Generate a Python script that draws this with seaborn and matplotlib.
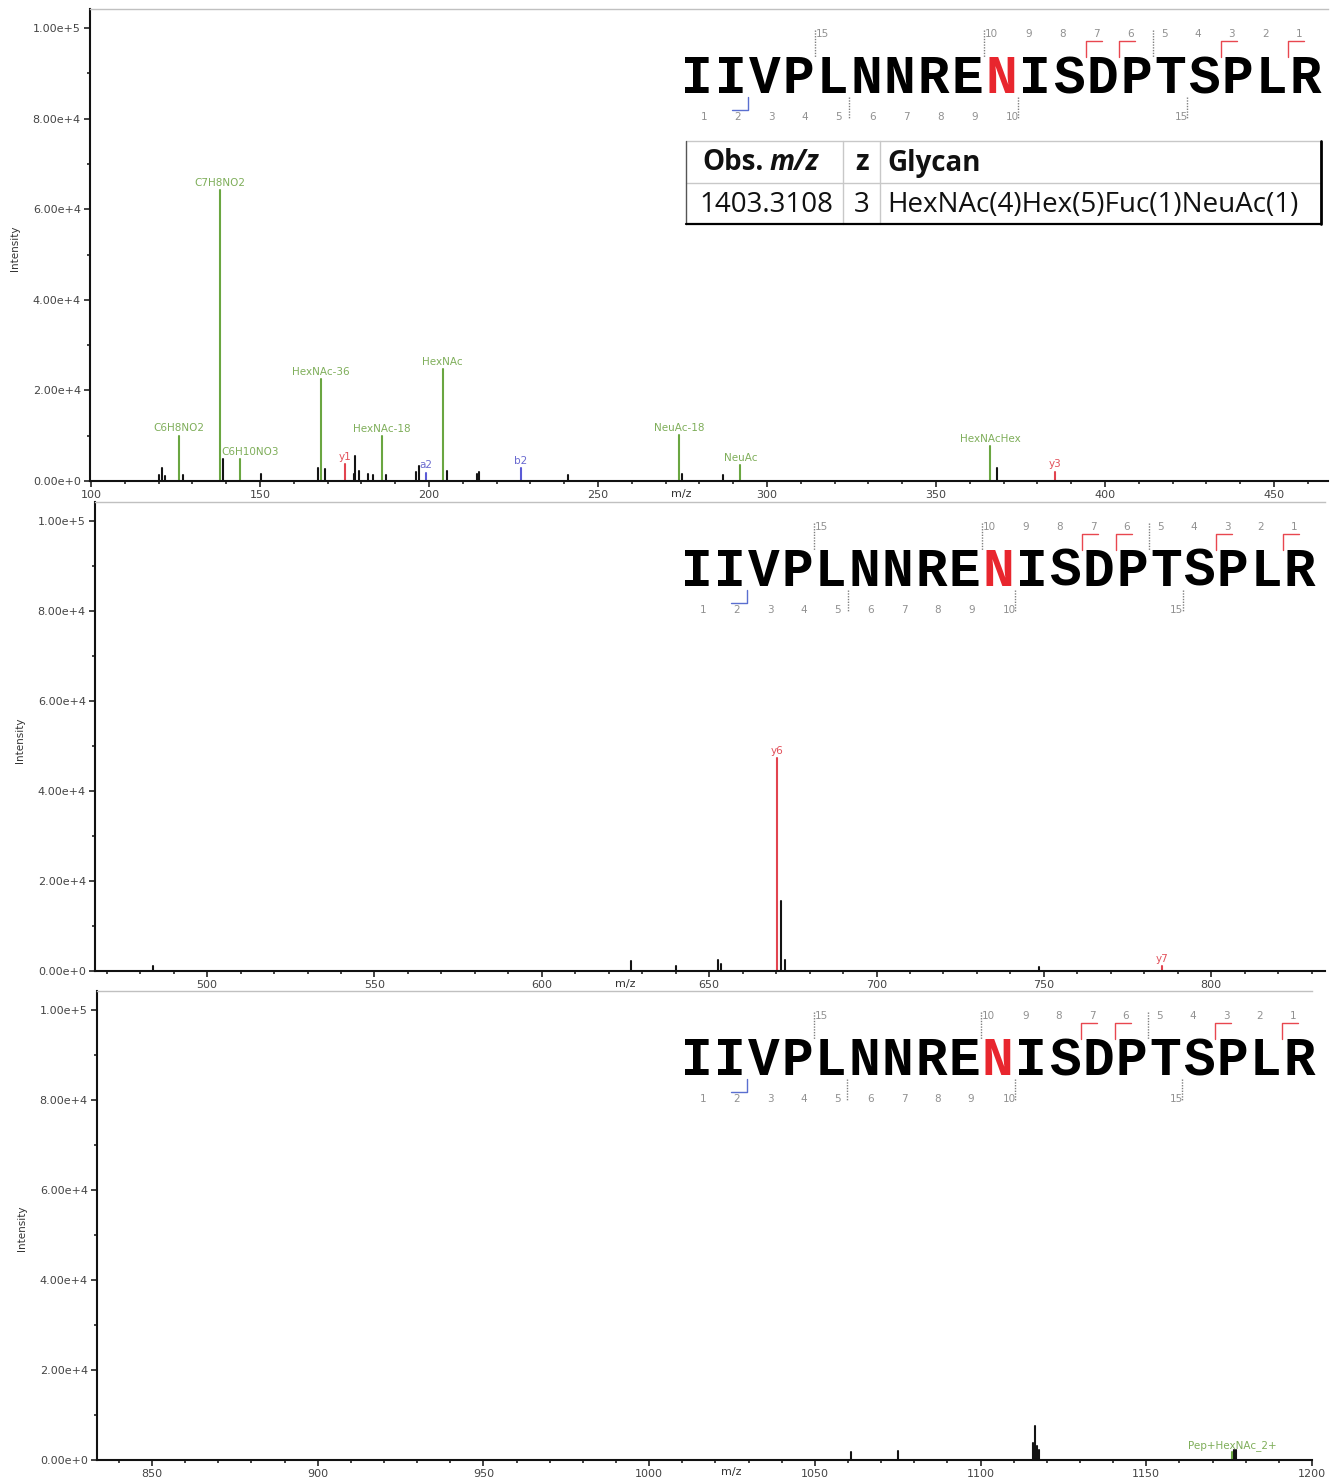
import numpy as np
import pandas as pd
import matplotlib
matplotlib.use("Agg")
import matplotlib.pyplot as plt
from matplotlib.ticker import MultipleLocator, FixedLocator, FixedFormatter
import seaborn as sns

# ---------------- data ----------------
top_mz = [120.1, 121.1, 121.8, 126.06, 127.1, 138.06, 139.1, 144.07, 150.2, 167.2,
          168.07, 169.2, 175.12, 177.9, 178.2, 179.2, 182.1, 183.5, 186.08, 187.2,
          196.1, 197.1, 199.18, 204.09, 205.2, 214.1, 214.9, 227.18, 241.2, 274.09,
          275.0, 286.9, 292.10, 366.14, 368.1, 385.2]
top_int = [1250, 2900, 1100, 10000, 1400, 64200, 4900, 4800, 1500, 2900,
           22500, 2700, 3700, 1600, 5500, 2300, 1500, 1400, 9900, 1400,
           2000, 3300, 1800, 24700, 2300, 1500, 2000, 2800, 1300, 10100,
           1500, 1400, 3500, 7700, 2900, 2000]
top_kind = ["other", "other", "other", "glycan", "other", "glycan", "other", "glycan", "other", "other",
            "glycan", "other", "y", "other", "other", "other", "other", "other", "glycan", "other",
            "other", "other", "b", "glycan", "other", "other", "other", "b", "other", "glycan",
            "other", "other", "glycan", "glycan", "other", "y"]
top_label = ["", "", "", "C6H8NO2", "", "C7H8NO2", "", "C6H10NO3", "", "",
             "HexNAc-36", "", "y1", "", "", "", "", "", "HexNAc-18", "",
             "", "", "a2", "HexNAc", "", "", "", "b2", "", "NeuAc-18",
             "", "", "NeuAc", "HexNAcHex", "", "y3"]

mid_mz = [483.96, 626.6, 640.0, 652.5, 653.6, 670.38, 671.6, 672.7, 748.6, 785.42]
mid_int = [1100, 2200, 1200, 2400, 1500, 47300, 15600, 2500, 900, 1100]
mid_kind = ["other", "other", "other", "other", "other", "y", "other", "other", "other", "y"]
mid_label = ["", "", "", "", "", "y6", "", "", "", "y7"]

bot_mz = [1060.8, 1075.1, 1115.9, 1116.4, 1116.9, 1117.6, 1176.0, 1176.6, 1177.1]
bot_int = [1850, 2000, 3850, 7600, 3200, 2150, 1700, 2300, 2300]
bot_kind = ["other", "other", "other", "other", "other", "other", "glycan", "other", "other"]
bot_label = ["", "", "", "", "", "", "Pep+HexNAc_2+", "", ""]

y_tick_values = [0, 20000, 40000, 60000, 80000, 100000]
y_tick_labels = ["0.00e+0", "2.00e+4", "4.00e+4", "6.00e+4", "8.00e+4", "1.00e+5"]

peptide = "IIVPLNNRENISDPTSPLR"
glyco_site = 9
y_numbers = [15, 10, 9, 8, 7, 6, 5, 4, 3, 2, 1]
b_numbers = [1, 2, 3, 4, 5, 6, 7, 8, 9, 10, 15]
y_observed = [1, 3, 6, 7]
b_observed = [2]

table_header = ["Obs.", "m/z", "z", "Glycan"]
table_row = ["1403.3108", "3", "HexNAc(4)Hex(5)Fuc(1)NeuAc(1)"]

# ---------------- style ----------------
sns.set_theme(style="white")
plt.rcParams["font.family"] = ["DejaVu Sans"]

W, H = 1338, 1482
fig = plt.figure(figsize=(W / 100, H / 100), dpi=100)
fig.patch.set_facecolor("white")

palette = {"other": "#141414", "glycan": "#6aa641", "y": "#e2444f", "b": "#5b5bd6"}
label_colors = {"glycan": "#7fae5a", "y": "#e2505a", "b": "#6a6ad0", "other": "#333333"}
label_dx = {"C6H10NO3": 7}


def rect(l, t, r, b):
    return [l / W, 1 - b / H, (r - l) / W, (b - t) / H]


def stems(mz, inten, kind):
    rows = []
    for i, (m, v, k) in enumerate(zip(mz, inten, kind)):
        rows.append((i, m, 0.0, k))
        rows.append((i, m, v, k))
    return pd.DataFrame(rows, columns=["pid", "mz", "intensity", "kind"])


panels = [
    dict(box=(90, 9, 1328, 481), ymax=1e5 * (481 - 9) / (481 - 28), xlim=(99.7, 466.0),
         mz=top_mz, inten=top_int, kind=top_kind, label=top_label),
    dict(box=(95, 502, 1325, 971), ymax=1e5 * 469 / 450, xlim=(466.5, 834.0),
         mz=mid_mz, inten=mid_int, kind=mid_kind, label=mid_label),
    dict(box=(97, 991, 1312, 1460), ymax=1e5 * 469 / 450, xlim=(833.4, 1200.0),
         mz=bot_mz, inten=bot_int, kind=bot_kind, label=bot_label),
]

for p in panels:
    ax = fig.add_axes(rect(*p["box"]))
    df = stems(p["mz"], p["inten"], p["kind"])
    sns.lineplot(data=df, x="mz", y="intensity", units="pid", estimator=None,
                 hue="kind", palette=palette, sort=False, legend=False,
                 lw=1.5, ax=ax)
    for m, v, k, lab in zip(p["mz"], p["inten"], p["kind"], p["label"]):
        if lab:
            ax.annotate(lab, xy=(m, v), xytext=(label_dx.get(lab, 0), 3.2),
                        textcoords="offset points", ha="center", va="baseline",
                        fontsize=7.5, color=label_colors[k])
    ax.set_xlim(*p["xlim"])
    ax.set_ylim(0, p["ymax"])
    ax.set_xlabel("")
    ax.set_ylabel("")
    ax.xaxis.set_major_locator(MultipleLocator(50))
    ax.xaxis.set_minor_locator(MultipleLocator(10))
    ax.yaxis.set_major_locator(FixedLocator(y_tick_values))
    ax.yaxis.set_major_formatter(FixedFormatter(y_tick_labels))
    ax.yaxis.set_minor_locator(MultipleLocator(10000))
    ax.tick_params(which="major", direction="out", length=4.6, width=1.1,
                   color="#111111", labelsize=8, labelcolor="#444444", pad=2)
    ax.tick_params(which="minor", direction="out", length=2.4, width=1.1, color="#111111")
    ax.tick_params(axis="x", which="both", bottom=True)
    ax.tick_params(axis="y", which="both", left=True)
    for s in ["left", "bottom"]:
        ax.spines[s].set_color("#111111")
        ax.spines[s].set_linewidth(1.5)
    ax.spines["right"].set_visible(False)
    ax.spines["top"].set_color("#c0c0c0")
    ax.spines["top"].set_linewidth(1.0)
    ax.set_facecolor("white")
    ax.grid(False)

# ---------------- overlay (pixel coordinates) ----------------
ov = fig.add_axes([0, 0, 1, 1])
ov.set_xlim(0, W)
ov.set_ylim(H, 0)
ov.axis("off")
ov.patch.set_alpha(0)

# axis titles
for (xx, yy) in [(681, 494), (625, 984), (731, 1472)]:
    ov.text(xx, yy, "m/z", ha="center", va="center", fontsize=8, color="#333333")
for (xx, yy) in [(15, 248), (20, 740), (22, 1228)]:
    ov.text(xx, yy, "Intensity", ha="center", va="center", rotation=90,
            fontsize=7.5, color="#333333")

RED = "#e8262e"
NUM = "#909090"


def draw_sequence(top, x0, sp):
    n = len(peptide)
    for i, aa in enumerate(peptide):
        ov.text(x0 + sp * (i + 0.5), top + 84, aa, ha="center", va="baseline",
                fontsize=38, fontweight="bold", family="Liberation Mono",
                color=RED if i == glyco_site else "black")
    for k in y_numbers:
        bx = x0 + sp * (n - k)
        if k >= 10:
            ov.text(bx + 1, top + 25, str(k), ha="left", va="center", fontsize=7.5, color=NUM)
        else:
            ov.text(bx + 11, top + 25, str(k), ha="center", va="center", fontsize=7.5, color=NUM)
        if k % 5 == 0:
            ov.plot([bx, bx], [top + 21, top + 48], ls=(0, (1, 1)), color="#808080", lw=1)
        if k in y_observed:
            ov.plot([bx, bx, bx + 16], [top + 48, top + 32, top + 32], color="#e8474f", lw=1)
    for k in b_numbers:
        bx = x0 + sp * k
        if k >= 10:
            ov.text(bx + 1, top + 108, str(k), ha="right", va="center", fontsize=7.5, color=NUM)
        else:
            ov.text(bx - 10, top + 108, str(k), ha="center", va="center", fontsize=7.5, color=NUM)
        if k % 5 == 0:
            ov.plot([bx, bx], [top + 88, top + 110], ls=(0, (1, 1)), color="#808080", lw=1)
        if k in b_observed:
            ov.plot([bx, bx, bx - 16], [top + 88, top + 101, top + 101], color="#5a6fd0", lw=1)


draw_sequence(9, 680, 33.8)
draw_sequence(502, 680, 33.5)
draw_sequence(991, 680, 33.45)

# table
tl, tr, tt, tm, tb = 686, 1321, 141, 183, 224
light = "#c8c8c8"
ov.plot([tl, tr], [tt, tt], color=light, lw=1)
ov.plot([tl, tr], [tm, tm], color=light, lw=1)
for cx in (843, 880):
    ov.plot([cx, cx], [tt, tb], color=light, lw=1)
ov.plot([tl, tl], [tt, tb], color="#555555", lw=1)
ov.plot([tl, tr], [tb, tb], color="black", lw=1.6)
ov.plot([tr, tr], [tt, tb], color="black", lw=2)

tfont = "Open Sans"
TS = 20
t_obs = ov.text(702, 163, table_header[0], ha="left", va="center", fontsize=TS,
                fontweight="bold", family=tfont, color="#111111")
renderer = fig.canvas.get_renderer()
obs_w = t_obs.get_window_extent(renderer).width
ov.text(702 + obs_w + 6, 163, table_header[1], ha="left", va="center", fontsize=TS,
        fontweight="bold", style="italic", family=tfont, color="#111111")
ov.text(862, 163, table_header[2], ha="center", va="center", fontsize=TS,
        fontweight="bold", family=tfont, color="#111111")
ov.text(887, 163, table_header[3], ha="left", va="center", fontsize=TS,
        fontweight="bold", family=tfont, color="#111111")
ov.text(699, 205, table_row[0], ha="left", va="center", fontsize=TS,
        family=tfont, color="#111111")
ov.text(862, 205, table_row[1], ha="center", va="center", fontsize=TS,
        family=tfont, color="#111111")
ov.text(887, 205, table_row[2], ha="left", va="center", fontsize=TS,
        family=tfont, color="#111111")

fig.savefig("out.png", dpi=100, facecolor="white")
